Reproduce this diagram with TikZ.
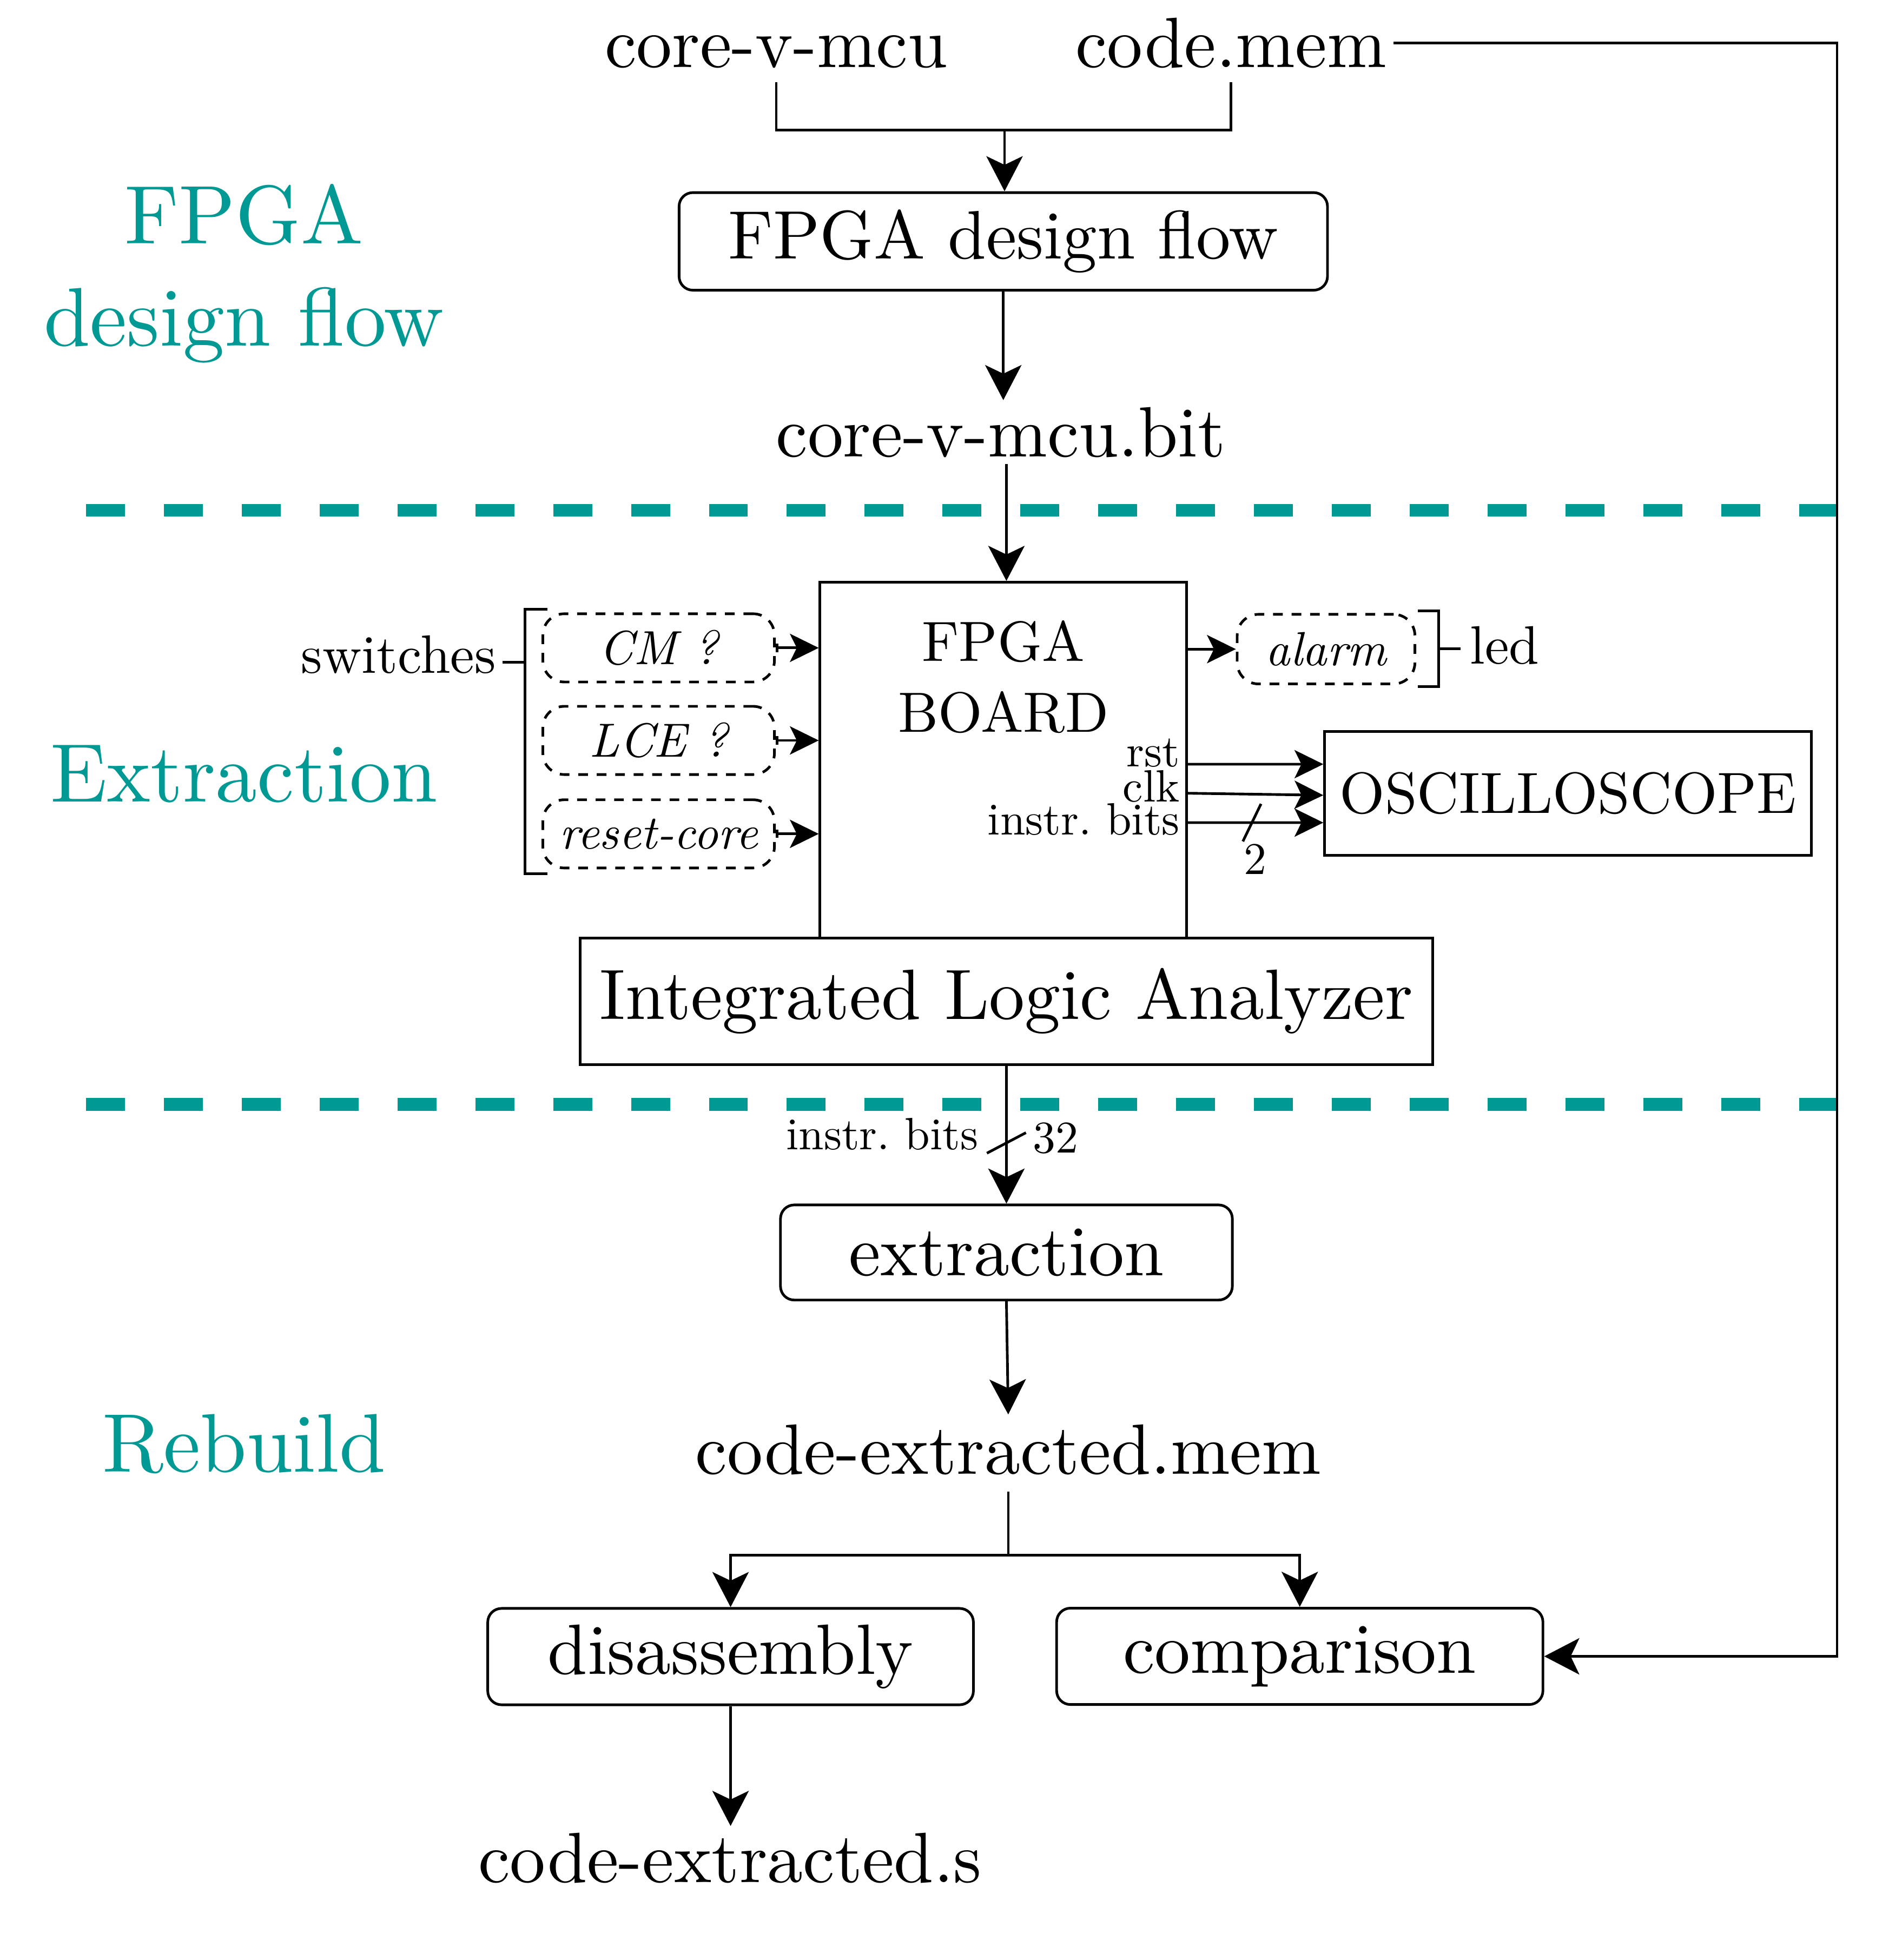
\documentclass[tikz,border=0pt]{standalone}
\usepackage{fontspec}
\setmainfont{lmroman10-regular.otf}[ItalicFont=lmroman10-italic.otf,BoldFont=lmroman10-bold.otf]
\usepackage{tikz}
\usetikzlibrary{arrows.meta,positioning}
\definecolor{flowteal}{RGB}{0,153,148}
\newcommand{\bigtext}{\fontsize{16.2}{19.4}\selectfont}
\newcommand{\sectiontext}{\fontsize{18.9}{23.3}\selectfont}
\newcommand{\midtext}{\fontsize{12.3}{15}\selectfont}
\newcommand{\boardtext}{\fontsize{12.9}{16.2}\selectfont}
\newcommand{\osctext}{\fontsize{13.2}{16}\selectfont}
\newcommand{\smalltext}{\fontsize{10.3}{12}\selectfont}
\newcommand{\switchtext}{\fontsize{10.9}{12.7}\selectfont\itshape}
\tikzstyle{file}=[inner sep=0.045cm,font=\bigtext]
\tikzstyle{block}=[draw,rounded corners=0.11cm,inner sep=0.1cm,minimum height=0.77cm,font=\bigtext]
\tikzstyle{hw}=[draw,fill=white,inner sep=0.1cm]
\tikzstyle{switch}=[draw,dash pattern=on 2.2pt off 2pt,rounded corners=0.17cm,inner sep=0,minimum width=1.85cm,minimum height=0.545cm,font=\switchtext]
\tikzstyle{section}=[text=flowteal,font=\sectiontext,align=center,inner sep=0]
\tikzstyle{phase}=[draw=flowteal,line width=0.1025cm,dash pattern=on 0.311cm off 0.311cm]
\tikzstyle{sig}=[inner sep=0,font=\smalltext]
\tikzstyle{sigarrow}=[-{Stealth[length=0.23cm,width=0.225cm,inset=0.055cm]}]
\tikzstyle{ctrl}=[{Bar[width=0.066cm]}-{Stealth[length=0.23cm,width=0.225cm,inset=0.055cm]}]

\begin{document}
\begin{tikzpicture}[x=0.01cm,y=-0.01cm,line width=0.6pt,>={Stealth[length=0.28cm,width=0.29cm,inset=0.069cm]}]
  \useasboundingbox (0,0) rectangle (1510,1567.1);

  % phases
  \node[section] (secflow) at (195,218.8) {FPGA\\design flow};
  \node[section,anchor=base] (secext) at (195,641) {Extraction};
  \node[section,anchor=base] (secreb) at (195,1177) {Rebuild};
  \draw[phase] (68.8,408) -- (1468.5,408);
  \draw[phase] (68.8,883) -- (1468.5,883);

  % design flow
  \node[file,anchor=base] (cvm) at (620.5,54) {core-v-mcu};
  \node[file,anchor=base] (cmem) at (984,54) {code.mem};
  \node[block,minimum width=5.18cm,minimum height=0.78cm,font=\fontsize{15.6}{19}\selectfont] (flow) at (802,193) {FPGA design flow};
  \node[file,anchor=base] (bit) at (800,365) {core-v-mcu.bit};
  \coordinate (join) at (803,104);
  \draw[shorten <=0.055cm,shorten >=0.055cm] (cvm.south) |- (join) -| (cmem.south);
  \draw[->] (join) -- (join |- flow.north);
  \draw[->] (flow.south) -- (flow.south |- bit.north);

  % board
  \node[draw,inner sep=0,minimum width=2.928cm,minimum height=2.844cm,
        label={[anchor=north,yshift=-0.304cm,align=center,inner sep=0,font=\boardtext]north:FPGA\\BOARD}] (board) at (802,607.8) {};
  \node[hw,minimum width=6.81cm,minimum height=1.01cm,font=\bigtext] (ila) at (804.5,800.5) {Integrated Logic Analyzer};
  \draw[->] (bit.south -| ila.north) -- (ila.north |- board.north);

  % switches
  \node[switch] (cm) at (526.5,518) {CM ?};
  \node[switch] (lce) at (526.5,592) {LCE ?};
  \node[switch] (rstc) at (526.5,666.7) {reset-core};
  \foreach \s in {cm,lce,rstc}
    \draw[ctrl] (\s.east) -- (\s.east -| board.west);
  \coordinate (brtop) at (437.7,487);
  \coordinate (brbot) at (437.7,698.6);
  \draw (brtop) -- ++(-17.9,0) |- (brbot);
  \node[inner sep=0,anchor=base east,font=\midtext] (sw) at (397.3,538) {switches};
  \coordinate (swtick) at (419.8,529.5);
  \draw (swtick) -- ([xshift=0.046cm]swtick -| sw.east);

  % alarm
  \node[switch,minimum width=1.42cm,minimum height=0.556cm] (alarm) at (1060,519) {alarm};
  \draw[sigarrow] (board.east |- alarm) -- (alarm);
  \coordinate (ledtop) at (1133.5,488.6);
  \coordinate (ledbot) at (1133.5,548.8);
  \draw (ledtop) -- ++(16.5,0) |- (ledbot);
  \node[inner sep=0,anchor=base west,font=\midtext] (led) at (1174,530.6) {led};
  \coordinate (ledtick) at (1150,518.7);
  \draw (ledtick) -- ([xshift=-0.065cm]ledtick -| led.west);

  % oscilloscope
  \node[draw,inner sep=0,minimum width=3.89cm,minimum height=0.99cm,font=\osctext] (osc) at (1253.5,634.5) {OSCILLOSCOPE};
  \node[sig,anchor=base east] (lrst) at (944,613) {rst};
  \node[sig,anchor=base east] (lclk) at (944,641) {clk};
  \node[sig,anchor=base east] (lbits) at (944,667.6) {instr.\ bits};
  \draw[sigarrow] ([yshift=-0.032cm]board.east) -- ([yshift=0.235cm]osc.west);
  \draw[sigarrow] ([yshift=-0.264cm]board.east) -- ([yshift=-0.013cm]osc.west);
  \draw[sigarrow] ([yshift=-0.499cm]board.east) -- coordinate[pos=0.473] (bus2) ([yshift=-0.232cm]osc.west);
  \draw (bus2) ++(-7.25,15) -- ++(14.5,-30);
  \node[sig,anchor=base] (w2) at (1003.2,698.8) {2};

  % rebuild
  \node[block,minimum width=3.61cm,minimum height=0.76cm] (ext) at (804.5,1001.4) {extraction};
  \draw[->] (ila.south) -- coordinate[pos=0.56] (bus32) (ila.south |- ext.north);
  \draw (bus32) ++(-15.6,8.2) -- ++(31.2,-16.4);
  \node[sig,anchor=base east] (lbits2) at (783,919.3) {instr.\ bits};
  \node[sig,anchor=base west] (w32) at (824.5,921.8) {32};

  \node[file,anchor=base] (cem) at (806,1178.5) {code-extracted.mem};
  \draw[->,shorten >=0.025cm] (ext.south) -- (cem.north);
  \node[block,minimum width=3.88cm] (dis) at (584,1324.5) {disassembly};
  \node[block,minimum width=3.885cm] (cmp) at (1039,1324.3) {comparison};
  \coordinate (split) at (807,1243.5);
  \draw[shorten <=0.08cm] (cem.south) -- (cem.south |- split);
  \draw[->] (split) -| (dis.north);
  \draw[->] (split) -| (cmp.north);
  \node[file,anchor=base] (ces) at (583.5,1505) {code-extracted.s};
  \draw[->] (dis.south) -- (dis.south |- ces.north);

  % reference code back to comparison
  \coordinate (fbcorner) at (1468.5,1324.3);
  \draw[->] (cmem.east) -| (fbcorner) -- (cmp.east);
\end{tikzpicture}
\end{document}
